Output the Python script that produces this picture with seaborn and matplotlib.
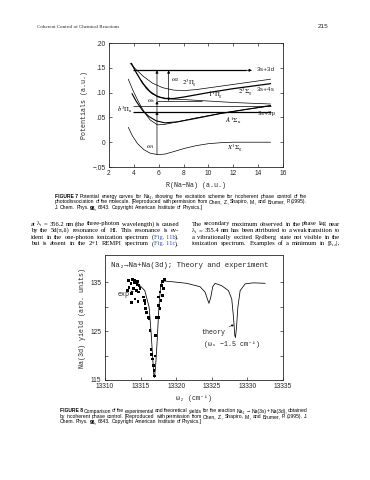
import matplotlib
matplotlib.use("Agg")
import matplotlib.pyplot as plt
import seaborn as sns

W, H = 370, 480

# ---- FIGURE 7: Na2 potential curves, R in a.u., V in a.u. ----
x_sigma_r = [3.55, 3.9, 4.3, 4.8, 5.3, 5.9, 6.5, 7.2, 8, 9, 10, 11, 12, 13, 15]
x_sigma_v = [0.030, 0.012, -0.003, -0.015, -0.022, -0.025, -0.024, -0.019,
             -0.013, -0.007, -0.003, -0.001, 0.0, 0.0, 0.0]
a_sigma_r = [3.55, 3.9, 4.3, 4.8, 5.3, 5.9, 6.5, 7.5, 9, 11, 13, 15]
a_sigma_v = [0.127, 0.106, 0.085, 0.062, 0.045, 0.035, 0.036, 0.041, 0.049,
             0.058, 0.066, 0.073]
b_pi_r = [3.85, 4.2, 4.7, 5.2, 5.8, 6.5, 7.5, 9, 11, 13, 15]
b_pi_v = [0.098, 0.082, 0.064, 0.052, 0.043, 0.039, 0.041, 0.048, 0.058,
          0.066, 0.074]
pi1_r = [4.6, 5.0, 5.5, 6.2, 7, 8, 10, 12, 15]
pi1_v = [0.125, 0.108, 0.097, 0.090, 0.087, 0.086, 0.083, 0.080, 0.077]
sig2_r = [3.8, 4.2, 4.7, 5.3, 5.9, 6.5, 7.2, 8, 10, 12, 15]
sig2_v = [0.159, 0.140, 0.119, 0.102, 0.092, 0.088, 0.088, 0.091, 0.100,
          0.108, 0.118]
pi2_r = [3.7, 4.2, 4.8, 5.5, 6.3, 7.2, 8, 9, 11, 13, 15]
pi2_v = [0.159, 0.146, 0.132, 0.119, 0.110, 0.105, 0.104, 0.106, 0.113,
         0.120, 0.127]

# energy levels (horizontal lines)
level_v = [0.145, 0.083, 0.072, 0.0615]
level_r0 = [3.9, 5.86, 3.9, 3.9]
level_r1 = [13.0, 9.5, 15.0, 15.0]
level_lw = [0.9, 0.5, 0.5, 0.9]

pot_yticks = [-0.05, 0.0, 0.05, 0.10, 0.15, 0.20]
pot_ylabels = ["\u2212.05", "0", ".05", ".10", ".15", ".20"]
pot_xticks = [2, 4, 6, 8, 10, 12, 14, 16]

# ---- FIGURE 8: Na(3d) yield vs omega_2 ----
theory_w = [13314.65, 13315.59, 13316.2, 13316.49, 13316.72, 13316.86,
            13316.95, 13317.1, 13317.33, 13317.57, 13317.8, 13318.08,
            13319.6, 13321.47, 13323.35, 13324.05, 13324.38, 13324.6,
            13324.85, 13325.13, 13325.46, 13326.4, 13327.34, 13327.8,
            13328.05, 13328.23, 13328.33, 13328.47, 13328.66, 13328.98,
            13329.69, 13330.86, 13332.5]
theory_y = [134.7, 133.3, 129.9, 124.4, 119.0, 115.9, 115.5, 117.6, 123.1,
            129.9, 134.0, 135.3, 135.1, 134.8, 134.1, 133.0, 131.6, 130.7,
            131.9, 134.1, 134.8, 134.3, 133.3, 131.6, 127.8, 124.1, 123.7,
            125.8, 129.9, 133.3, 134.7, 134.9, 134.8]
exp_w = [13313.27, 13313.83, 13314.21, 13314.59, 13314.12, 13313.65,
         13314.49, 13314.78, 13314.92, 13313.37, 13313.97, 13314.45,
         13313.75, 13314.68, 13313.19, 13314.21, 13315.38, 13315.52,
         13315.62, 13315.72, 13315.86, 13316.08, 13316.18, 13316.32,
         13316.46, 13316.56, 13316.64, 13316.78, 13316.88, 13316.92,
         13317.02, 13317.12, 13317.26, 13317.49, 13317.72, 13317.49,
         13317.87, 13317.49, 13318.05, 13317.72, 13318.19, 13317.96,
         13318.05, 13318.33, 13313.75, 13314.63]
exp_y = [135.4, 135.6, 135.5, 135.1, 134.9, 134.8, 134.6, 134.4, 133.8,
         134.0, 133.7, 133.4, 132.7, 133.0, 133.4, 131.6, 132.0, 131.3,
         130.6, 129.6, 128.9, 127.8, 127.6, 125.1, 121.3, 120.3, 119.3,
         117.9, 116.9, 115.8, 119.9, 124.1, 127.8, 127.8, 129.6, 130.3,
         131.3, 132.0, 132.3, 133.0, 133.7, 134.4, 135.1, 135.6, 130.9,
         131.1]
yield_xticks = [13310, 13315, 13320, 13325, 13330, 13335]
yield_yticks = [115, 120, 125, 130, 135]
yield_ylabels = ["115", "", "125", "", "135"]

# ---- page text ----
header_left = "Coherent Control of Chemical Reactions"
header_right = "215"
cap7 = [
    [[("FIGURE 7", "k", "bold")], "Potential", "energy", "curves", "for",
     "Na\u2082,", "showing", "the", "excitation", "scheme", "for", "incoherent",
     "phase", "control", "of", "the"],
    ["photodissociation", "of", "the", "molecule.", "[Reproduced", "with",
     "permission", "from", "Chen,", "Z.,", "Shapiro,", "M.,", "and", "Brumer,",
     "P.", "(1995)."],
    ["J.", "Chem.", "Phys.", [("98,", "k", "bold")], "6843.", "Copyright",
     "American", "Institute", "of", "Physics.]"],
]
cap8 = [
    [[("FIGURE 8", "k", "bold")], "Comparison", "of", "the", "experimental",
     "and", "theoretical", "yields", "for", "the", "reaction", "Na\u2082",
     "\u2192", "Na(3s)", "+", "Na(3d),", "obtained"],
    ["by", "incoherent", "phase", "control.", "[Reproduced", "with",
     "permission", "from", "Chen,", "Z.,", "Shapiro,", "M.,", "and", "Brumer,",
     "P.", "(1995).", "J."],
    ["Chem.", "Phys.", [("98,", "k", "bold")], "6843.", "Copyright",
     "American", "Institute", "of", "Physics.]"],
]
LINK = "#3a4fb0"
body_left = [
    "at \u03bb\u2081 = 356.2 nm (the three-photon wavelength) is caused".split(),
    "by the 5d(\u03c0,\u03b4) resonance of HI. This resonance is ev-".split(),
    "ident in the one-photon ionization spectrum".split()
    + [[("(", "k", "normal"), ("Fig. 11b", LINK, "normal"), ("),", "k", "normal")]],
    "but is absent in the 2+1 REMPI spectrum".split()
    + [[("(", "k", "normal"), ("Fig. 11c", LINK, "normal"), (").", "k", "normal")]],
]
body_right = [
    "The secondary maximum observed in the phase lag near".split(),
    "\u03bb\u2081 = 355.4 nm has been attributed to a weak transition to".split(),
    "a vibrationally excited Rydberg state not visible in the".split(),
    "ionization spectrum. Examples of a minimum in |\u03b2\u2081\u2082|,".split(),
]

sns.set_style("ticks")
plt.rcParams["font.family"] = ["Liberation Sans", "DejaVu Sans"]
plt.rcParams["mathtext.fontset"] = "stix"
MONO = ["Liberation Mono", "DejaVu Sans Mono"]
SERIF = ["Liberation Serif", "DejaVu Serif"]
SANS = ["Liberation Sans", "DejaVu Sans"]

fig = plt.figure(figsize=(W / 100, H / 100), dpi=100)
fig.patch.set_facecolor("white")
renderer = fig.canvas.get_renderer()


def token_segs(tok):
    return [(tok, "k", "normal")] if isinstance(tok, str) else tok


def measure(tokens, size, family):
    total = 0.0
    for tok in tokens:
        for txt, col, wt in token_segs(tok):
            t = fig.text(0, 0, txt, fontsize=size, family=family, weight=wt)
            total += t.get_window_extent(renderer).width
            t.remove()
    return total


def fit_size(lines, width, family, space_em=0.25, base=4.0):
    # font size at which the justified lines fill the width with normal spaces
    sizes = []
    for tokens in lines:
        k = measure(tokens, base, family) / base
        sp = (len(tokens) - 1) * space_em * 100 / 72
        sizes.append(width / (k + sp))
    return min(sizes)


def put_line(tokens, x0, y, width, size, family, justify=True, space_em=0.25):
    placed = []
    total = 0.0
    for tok in tokens:
        parts = []
        for txt, col, wt in token_segs(tok):
            t = fig.text(0, 1 - y / H, txt, fontsize=size, family=family,
                         color=col, weight=wt, va="center", ha="left")
            w = t.get_window_extent(renderer).width
            parts.append((t, w))
            total += w
        placed.append(parts)
    gap = size * space_em * 100 / 72
    if justify and len(placed) > 1:
        gap = (width - total) / (len(placed) - 1)
    x = x0
    for parts in placed:
        for t, w in parts:
            t.set_x(x / W)
            x += w
        x += gap


# header
fig.text(37 / W, 1 - 27 / H, header_left, fontsize=3.6, family=SERIF,
         va="center", ha="left")
fig.text(328 / W, 1 - 27 / H, header_right, fontsize=4.6, family=SANS,
         va="center", ha="right")

# ---------- figure 7 ----------
ax1 = fig.add_axes([109 / W, 1 - 167 / H, 174 / W, 124 / H])
curve_sets = [
    (x_sigma_r, x_sigma_v, 0.5),
    (a_sigma_r, a_sigma_v, 0.5),
    (b_pi_r, b_pi_v, 0.8),
    (pi1_r, pi1_v, 0.5),
    (sig2_r, sig2_v, 0.9),
    (pi2_r, pi2_v, 0.5),
]
for rr, vv, lw in curve_sets:
    sns.lineplot(x=rr, y=vv, ax=ax1, color="k", lw=lw)
for v, r0, r1, lw in zip(level_v, level_r0, level_r1, level_lw):
    ax1.hlines(v, r0, r1, color="k", lw=lw)

arr = dict(arrowstyle="-|>", lw=0.5, color="k", mutation_scale=4,
           shrinkA=0, shrinkB=0)
ax1.annotate("", xy=(13.5, level_v[0]), xytext=(13.0, level_v[0]),
             arrowprops=arr)
r_w1 = 5.86
ax1.annotate("", xy=(r_w1, level_v[3]), xytext=(r_w1, min(x_sigma_v)),
             arrowprops=arr)
ax1.annotate("", xy=(r_w1, level_v[1]), xytext=(r_w1, level_v[3]),
             arrowprops=arr)
ax1.annotate("", xy=(r_w1, level_v[0]), xytext=(r_w1, level_v[1]),
             arrowprops=arr)
ax1.annotate("", xy=(6.8, level_v[0]), xytext=(6.8, level_v[1]),
             arrowprops=dict(arrowstyle="<|-|>", lw=0.5, color="k",
                             mutation_scale=4, shrinkA=0, shrinkB=0))

lab = dict(fontsize=4.8, color="k")
ax1.text(13.9, 0.146, "3s+3d", family=MONO, va="center", fontsize=4.4)
ax1.text(13.9, 0.106, "3s+4s", family=MONO, va="center", fontsize=4.4)
ax1.text(14.0, 0.058, "3s+3p", family=MONO, va="center", fontsize=4.4)
ax1.text(8.5, 0.119, r"$2^3\Pi_g$", ha="center", va="center", **lab)
ax1.text(13.0, 0.102, r"$2^3\Sigma_g$", ha="center", va="center", **lab)
ax1.text(10.6, 0.093, r"$1^1\Pi_g$", ha="center", va="center", **lab)
ax1.text(12.0, 0.043, r"$A^1\Sigma_u$", ha="center", va="center", **lab)
ax1.text(12.1, -0.0135, r"$X^1\Sigma_g$", ha="center", va="center", **lab)
ax1.text(3.3, 0.0655, r"$b^3\Pi_u$", ha="center", va="center", **lab)
ax1.text(5.3, -0.009, r"$\omega_1$", ha="center", va="center", **lab)
ax1.text(7.3, 0.125, r"$\omega_2$", ha="center", va="center", **lab)
ax1.text(5.4, 0.083, r"$\omega_s$", ha="center", va="center", **lab)

ax1.set_xlim(2, 16)
ax1.set_ylim(-0.05, 0.20)
ax1.set_xticks(pot_xticks)
ax1.set_yticks(pot_yticks)
ax1.set_yticklabels(pot_ylabels)
ax1.tick_params(direction="in", length=2.5, width=0.5, labelsize=4.8,
                top=True, right=True, pad=2.5)
for s in ax1.spines.values():
    s.set_linewidth(0.6)
ax1.set_xlabel("R(Na\u2212Na) (a.u.)", family=MONO, fontsize=4.8, labelpad=3)
ax1.set_ylabel("Potentials (a.u.)", family=MONO, fontsize=4.8, labelpad=3)

s7 = fit_size(cap7[:2], 252, SANS)
for i, line in enumerate(cap7):
    put_line(line, 55, 196.5 + i * 5.4, 252, s7, SANS, justify=(i < 2))

sb = min(fit_size(body_left, 148, SERIF), fit_size(body_right, 148, SERIF))
for i, line in enumerate(body_left):
    put_line(line, 31, 224 + i * 6.6, 148, sb, SERIF)
for i, line in enumerate(body_right):
    put_line(line, 192, 224 + i * 6.6, 148, sb, SERIF)

# ---------- figure 8 ----------
ax2 = fig.add_axes([105 / W, 1 - 380 / H, 178 / W, 125 / H])
sns.lineplot(x=theory_w, y=theory_y, ax=ax2, color="k", lw=0.55)
sns.scatterplot(x=exp_w, y=exp_y, ax=ax2, color="k", s=4, marker="s",
                edgecolor="none")
ax2.set_xlim(13310, 13335)
ax2.set_ylim(115, 140.6)
ax2.set_xticks(yield_xticks)
ax2.set_yticks(yield_yticks)
ax2.set_yticklabels(yield_ylabels)
ax2.tick_params(direction="in", length=2.5, width=0.5, labelsize=4.8,
                right=True, pad=2.5)
for s in ax2.spines.values():
    s.set_linewidth(0.6)
ax2.set_xlabel("\u03c9\u2082 (cm\u207b\u00b9)", family=MONO, fontsize=4.8,
               labelpad=3)
ax2.set_ylabel("Na(3d) yield (arb. units)", family=MONO, fontsize=4.8,
               labelpad=3)
ax2.text(13321.9, 138.5, "Na\u2082\u2192Na+Na(3d); Theory and experiment",
         family=MONO, fontsize=5.3, ha="center", va="center")
ax2.annotate("exp", xy=(13314.0, 133.2), xytext=(13311.8, 132.6),
             family=MONO, fontsize=4.8, va="center",
             arrowprops=dict(arrowstyle="-|>", lw=0.4, color="k",
                             mutation_scale=3, shrinkA=0, shrinkB=0))
ax2.annotate("theory", xy=(13328.1, 126.3), xytext=(13323.6, 124.8),
             family=MONO, fontsize=4.8, va="center",
             arrowprops=dict(arrowstyle="-|>", lw=0.4, color="k",
                             mutation_scale=3, shrinkA=0, shrinkB=0))
ax2.text(13323.9, 122.2, "(\u03c9\u209b \u22121.5 cm\u207b\u00b9)", family=MONO,
         fontsize=4.8, va="center")

s8 = fit_size(cap8[:2], 248, SANS)
for i, line in enumerate(cap8):
    put_line(line, 60, 411 + i * 5.4, 248, s8, SANS, justify=(i < 2))

fig.savefig("out.png", dpi=100, facecolor="white")
